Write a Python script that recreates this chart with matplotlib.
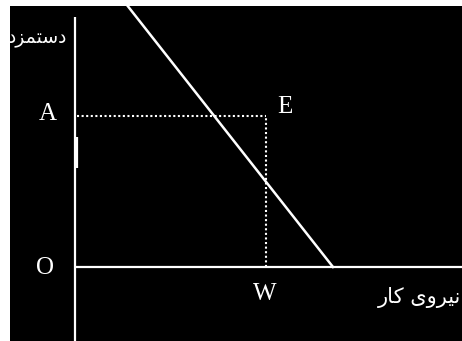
import matplotlib.pyplot as plt

# labour demand diagram (values in arbitrary units, origin at O)
demand_labor = [0, 258]
demand_wage = [328, 0]
wage_A = 151
labor_W = 191
wage_axis_top = 250
labor_axis_end = 387
tick_wage = [99, 130]

point_labels = ["A", "E", "O", "W"]
label_x = [-27, 210, -30, 190]
label_y = [153, 160, -1, -27]

# persian labels, shaped by hand (presentation forms, visual order)
wage_title = "\uFEA9\uFEB0\uFEE4\uFE98\uFEB3\uFEA9"            # دستمزد
labor_title = "\uFEAD\uFE8E\uFEDB \uFEEF\uFEED\uFEAE\uFEF4\uFEE7"  # نیروی کار

fig = plt.figure(figsize=(4.62, 3.41), dpi=100, facecolor="white")
ax = fig.add_axes([10 / 462, 0, 452 / 462, 335 / 341])
ax.set_facecolor("black")
ax.set_xlim(-65, 387)
ax.set_ylim(-74, 261)
ax.set_xticks([])
ax.set_yticks([])
for s in ax.spines.values():
    s.set_visible(False)

# axes
ax.plot([0, 0], [-74, wage_axis_top], color="white", lw=1.6, solid_capstyle="butt")
ax.plot([0, labor_axis_end], [0, 0], color="white", lw=1.6, solid_capstyle="butt")
ax.plot([2, 2], tick_wage, color="white", lw=1.6, solid_capstyle="butt")

# demand curve
ax.plot(demand_labor, demand_wage, color="white", lw=1.8)

# dotted guides
ax.plot([2, labor_W], [wage_A, wage_A], color="white", lw=1.5, ls=(0, (1, 1.2)))
ax.plot([labor_W, labor_W], [0, wage_A], color="white", lw=1.5, ls=(0, (1, 1.2)))

for t, x, y in zip(point_labels, label_x, label_y):
    ax.text(x, y, t, color="white", fontsize=18, family="Liberation Serif",
            ha="center", va="center")

ax.text(-8, 229, wage_title, color="white", fontsize=13.5, family="DejaVu Sans",
        ha="right", va="center", clip_on=True)
ax.text(386, -30, labor_title, color="white", fontsize=15, family="DejaVu Sans",
        ha="right", va="center", clip_on=True)

fig.savefig("out.png", dpi=100, facecolor="white")
